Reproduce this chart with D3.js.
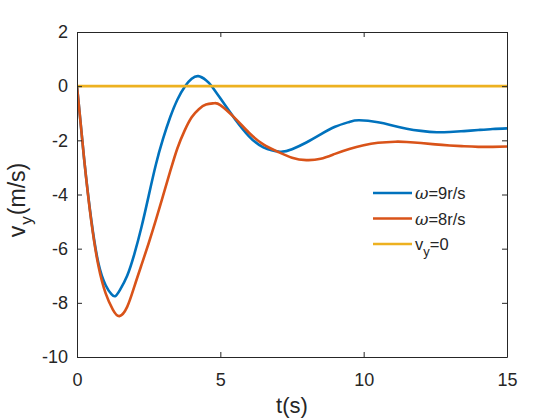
<!DOCTYPE html>
<html>
<head>
<meta charset="utf-8">
<script src="https://cdn.jsdelivr.net/npm/d3@7"></script>
<style>
  body { margin: 0; background: #fff; }
  svg { display: block; font-family: "Liberation Sans", Arial, sans-serif; }
</style>
</head>
<body>
<svg id="chart" width="560" height="420"></svg>
<script>
// ---- data ----
const tBlue = [0, 0.25, 0.5, 0.75, 1.0, 1.2, 1.34, 1.5, 1.75, 2.0, 2.25, 2.5, 2.75, 3.0, 3.25, 3.5, 3.77, 4.0, 4.23, 4.5, 4.7, 5.0, 5.5, 6.0, 6.5, 7.08, 7.5, 8.0, 8.5, 9.0, 9.5, 9.85, 10.5, 11.0, 11.5, 12.0, 12.55, 13.0, 13.5, 14.0, 14.5, 15.0];
const vBlue = [0, -2.7, -4.95, -6.55, -7.35, -7.68, -7.75, -7.52, -7.0, -6.2, -5.2, -4.05, -2.9, -1.95, -1.15, -0.5, 0.0, 0.27, 0.37, 0.22, 0.0, -0.45, -1.2, -1.85, -2.26, -2.42, -2.33, -2.08, -1.78, -1.5, -1.32, -1.26, -1.33, -1.45, -1.57, -1.65, -1.70, -1.69, -1.66, -1.62, -1.58, -1.56];

const tOrange = [0, 0.25, 0.5, 0.75, 1.0, 1.25, 1.48, 1.75, 2.0, 2.25, 2.5, 2.75, 3.0, 3.25, 3.5, 3.75, 4.0, 4.25, 4.5, 4.78, 5.0, 5.5, 6.0, 6.5, 7.0, 7.5, 8.0, 8.5, 9.0, 9.5, 10.0, 10.5, 11.1, 11.5, 12.0, 12.5, 13.0, 13.5, 14.0, 14.5, 15.0];
const vOrange = [0, -2.7, -5.0, -6.65, -7.65, -8.25, -8.49, -8.15, -7.4, -6.6, -5.8, -4.95, -4.05, -3.15, -2.3, -1.65, -1.15, -0.85, -0.68, -0.63, -0.7, -1.17, -1.72, -2.15, -2.42, -2.64, -2.73, -2.68, -2.5, -2.32, -2.18, -2.09, -2.05, -2.06, -2.1, -2.15, -2.19, -2.22, -2.24, -2.24, -2.23];

const tZero = [0, 15];
const vZero = [0, 0];

const xTicks = [0, 5, 10, 15];
const yTicks = [-10, -8, -6, -4, -2, 0, 2];

const seriesNames = ["ω=9r/s", "ω=8r/s", "v_y=0"];
const seriesColors = ["#0072BD", "#D95319", "#EDB120"];

// ---- layout ----
const svg = d3.select("#chart");
const L = 77, R = 507, T = 32, B = 357;
const x = d3.scaleLinear().domain([0, 15]).range([L, R]);
const y = d3.scaleLinear().domain([-10, 2]).range([B, T]);
const axisColor = "#262626";
const fmt = d => String(d);

const series = [
  tBlue.map((t, i) => [t, vBlue[i]]),
  tOrange.map((t, i) => [t, vOrange[i]]),
  tZero.map((t, i) => [t, vZero[i]])
];

svg.append("defs").append("clipPath").attr("id", "clip")
  .append("rect").attr("x", L).attr("y", T - 2).attr("width", R - L).attr("height", B - T + 4);

const line = d3.line().x(d => x(d[0])).y(d => y(d[1])).curve(d3.curveNatural);

const g = svg.append("g").attr("clip-path", "url(#clip)");
series.forEach((s, i) => {
  g.append("path").datum(s)
    .attr("d", line)
    .attr("fill", "none")
    .attr("stroke", seriesColors[i])
    .attr("stroke-width", 2.6)
    .attr("stroke-linejoin", "round");
});

// axes
function styleAxis(sel) {
  sel.select(".domain").attr("stroke", axisColor).attr("stroke-width", 1);
  sel.selectAll(".tick line").attr("stroke", axisColor).attr("stroke-width", 1);
  sel.selectAll(".tick text").attr("fill", axisColor).style("font-size", "18px")
    .style("font-family", "'Liberation Sans', Arial, sans-serif");
}
svg.append("g").attr("transform", `translate(0,${B})`)
  .call(d3.axisBottom(x).tickValues(xTicks).tickFormat(fmt).tickSize(-5).tickSizeOuter(0).tickPadding(16))
  .call(styleAxis);
svg.append("g").attr("transform", `translate(0,${T})`)
  .call(d3.axisTop(x).tickValues(xTicks).tickSize(-5).tickSizeOuter(0).tickFormat(""))
  .call(styleAxis);
svg.append("g").attr("transform", `translate(${L},0)`)
  .call(d3.axisLeft(y).tickValues(yTicks).tickFormat(fmt).tickSize(-5).tickSizeOuter(0).tickPadding(9))
  .call(styleAxis);
svg.append("g").attr("transform", `translate(${R},0)`)
  .call(d3.axisRight(y).tickValues(yTicks).tickSize(-5).tickSizeOuter(0).tickFormat(""))
  .call(styleAxis);

// axis labels
svg.append("text")
  .attr("x", (L + R) / 2).attr("y", 413)
  .attr("text-anchor", "middle")
  .attr("fill", axisColor).style("font-size", "22px")
  .text("t(s)");

const yl = svg.append("text")
  .attr("transform", `translate(25,200) rotate(-90)`)
  .attr("text-anchor", "middle")
  .attr("fill", axisColor).style("font-size", "23px");
yl.append("tspan").text("v");
yl.append("tspan").attr("dy", 7).attr("dx", 1).style("font-size", "17px").text("y");
yl.append("tspan").attr("dy", -7).attr("dx", 1).text("(m/s)");

// legend
const lx1 = 373, lx2 = 412, ly0 = 193, lstep = 25.5;
seriesNames.forEach((name, i) => {
  const yy = ly0 + i * lstep;
  svg.append("line").attr("x1", lx1).attr("x2", lx2).attr("y1", yy).attr("y2", yy)
    .attr("stroke", seriesColors[i]).attr("stroke-width", 2.6);
  const t = svg.append("text").attr("x", lx2 + 3).attr("y", yy + 6)
    .attr("fill", axisColor).style("font-size", "16.5px");
  if (name.startsWith("ω")) {
    t.append("tspan").style("font-style", "italic").style("font-family", "'DejaVu Serif', serif").text("ω");
    t.append("tspan").text(name.slice(1));
  } else {
    const parts = name.split("_");
    t.append("tspan").text(parts[0]);
    t.append("tspan").attr("dy", 6).style("font-size", "13px").text(parts[1][0]);
    t.append("tspan").attr("dy", -6).text(parts[1].slice(1));
  }
});
</script>
</body>
</html>
